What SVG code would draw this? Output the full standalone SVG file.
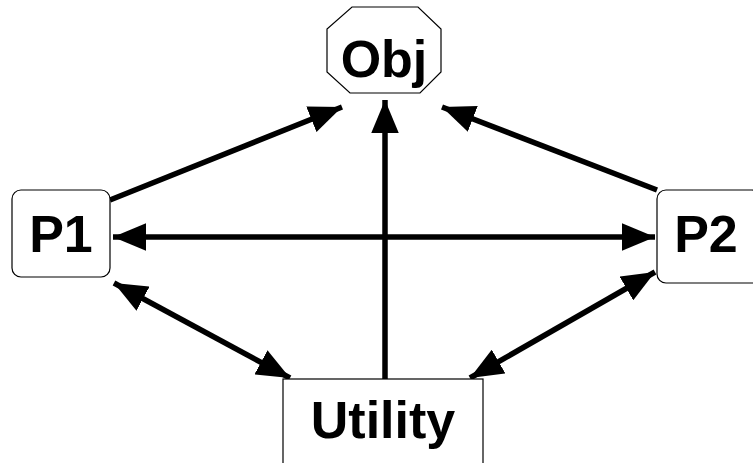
<svg xmlns="http://www.w3.org/2000/svg" width="753" height="463" viewBox="0 0 753 463">
<defs>
<marker id="ah" viewBox="0 0 10 10" refX="10" refY="5" markerWidth="6" markerHeight="5" orient="auto-start-reverse" markerUnits="strokeWidth" preserveAspectRatio="none">
<path d="M0,0 L10,5 L0,10 z" fill="#000"/>
</marker>
<style>
.n{fill:#fff;stroke:#000;stroke-width:1.2}
.t{font-family:"Liberation Sans",Arial,sans-serif;font-weight:bold;font-size:52px;text-anchor:middle;fill:#000}
.c{stroke:#000;stroke-width:5.5;fill:none}
</style>
</defs>
<rect width="753" height="463" fill="#fff"/>
<g id="connectors">
<line class="c" x1="110" y1="200" x2="342" y2="107" marker-end="url(#ah)"/>
<line class="c" x1="657" y1="190" x2="442" y2="107" marker-end="url(#ah)"/>
<line class="c" x1="385" y1="379" x2="385" y2="100" marker-end="url(#ah)"/>
<line class="c" x1="113" y1="237" x2="655" y2="237" marker-start="url(#ah)" marker-end="url(#ah)"/>
<line class="c" x1="114" y1="283" x2="290" y2="378" marker-start="url(#ah)" marker-end="url(#ah)"/>
<line class="c" x1="655" y1="272" x2="470" y2="378" marker-start="url(#ah)" marker-end="url(#ah)"/>
</g>
<g id="obj">
<polygon class="n" points="352,7 418,7 441,29 441,72 420,93 350,93 327,72 327,29"/>
<text class="t" x="384" y="77">Obj</text>
</g>
<g id="p1">
<rect class="n" x="12" y="190" width="98" height="87" rx="9"/>
<text class="t" x="61" y="252">P1</text>
</g>
<g id="p2">
<rect class="n" x="657" y="190" width="104" height="93" rx="9"/>
<text class="t" x="706" y="252">P2</text>
</g>
<g id="utility">
<rect class="n" x="283" y="379" width="200" height="100"/>
<text class="t" x="383" y="438">Utility</text>
</g>
</svg>
